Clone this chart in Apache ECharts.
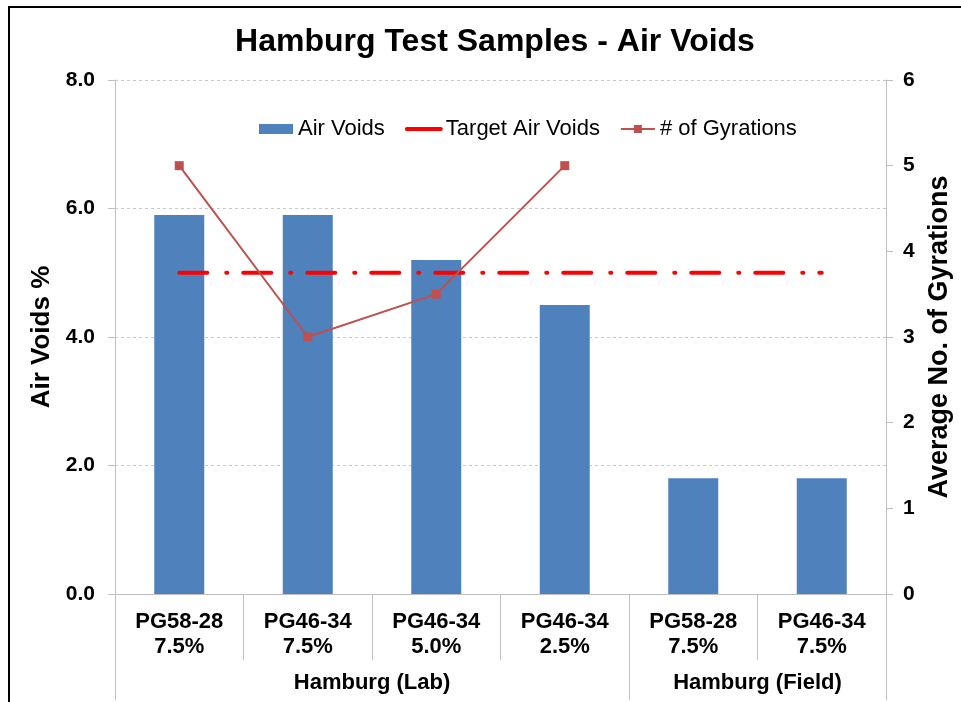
<!DOCTYPE html>
<html>
<head>
<meta charset="utf-8">
<title>Hamburg Test Samples - Air Voids</title>
<script src="https://cdn.jsdelivr.net/npm/echarts@6/dist/echarts.min.js"></script>
<style>
  html, body { margin: 0; padding: 0; background: #fff; }
  #chart { width: 961px; height: 702px; }
</style>
</head>
<body>
<div id="chart"></div>
<script>
// data
const categories = ['PG58-28\n7.5%', 'PG46-34\n7.5%', 'PG46-34\n5.0%', 'PG46-34\n2.5%', 'PG58-28\n7.5%', 'PG46-34\n7.5%'];
const airVoids = [5.9, 5.9, 5.2, 4.5, 1.8, 1.8];
const targetAirVoids = [5.0, 5.0, 5.0, 5.0, 5.0, 5.0];
const gyrations = [5, 3, 3.5, 5, null, null];
const groups = ['Hamburg (Lab)', 'Hamburg (Field)'];
const groupSizes = [4, 2];
const leftTicks = { min: 0, max: 8, interval: 2 };
const rightTicks = { min: 0, max: 6, interval: 1 };

const FONT = 'Arial, "Liberation Sans", sans-serif';
const GRAY = '#BFBFBF';

// group positions on a 0..n value scale laid over the category axis
const groupEdges = [0];
const groupCenters = [];
groupSizes.forEach(function (n) {
  const start = groupEdges[groupEdges.length - 1];
  groupCenters.push(start + n / 2);
  groupEdges.push(start + n);
});

const chart = echarts.init(document.getElementById('chart'));

chart.setOption({
  animation: false,
  textStyle: { fontFamily: FONT },
  title: {
    text: 'Hamburg Test Samples - Air Voids',
    left: 490,
    top: 21,
    textAlign: 'center',
    textStyle: { fontSize: 32, fontWeight: 'bold', color: '#000', fontFamily: FONT }
  },
  graphic: [{
    type: 'polyline',
    shape: { points: [[9, 702], [9, 7], [961, 7]] },
    style: { stroke: '#000', lineWidth: 2, fill: null },
    silent: true
  }],
  legend: {
    left: 254,
    top: 113,
    itemWidth: 34,
    itemHeight: 10,
    itemGap: 20,
    textStyle: { fontSize: 22, color: '#000', fontFamily: FONT },
    data: [
      { name: 'Air Voids', icon: 'rect' },
      { name: 'Target Air Voids', lineStyle: { type: 'solid', width: 4 }, itemStyle: { opacity: 0 } },
      { name: '# of Gyrations' }
    ]
  },
  grid: {
    left: 115,
    right: 75,
    top: 80,
    bottom: 108
  },
  xAxis: [
    {
      type: 'category',
      data: categories,
      axisLine: { lineStyle: { color: GRAY, width: 1 } },
      axisTick: { show: true, interval: 0, length: 66, lineStyle: { color: GRAY } },
      axisLabel: {
        interval: 0,
        margin: 15,
        color: '#000',
        fontSize: 22,
        fontWeight: 'bold',
        lineHeight: 25,
        fontFamily: FONT
      }
    },
    {
      // group labels under the categories
      type: 'value',
      position: 'bottom',
      min: 0,
      max: categories.length,
      axisLine: { show: false },
      axisTick: {
        show: true,
        customValues: groupEdges,
        length: 106,
        lineStyle: { color: GRAY }
      },
      axisLabel: {
        customValues: groupCenters,
        margin: 78,
        color: '#000',
        fontSize: 22,
        fontWeight: 'bold',
        fontFamily: FONT,
        formatter: function (v) {
          const i = groupCenters.indexOf(v);
          return i >= 0 ? groups[i] : '';
        }
      },
      splitLine: { show: false }
    }
  ],
  yAxis: [
    {
      type: 'value',
      min: leftTicks.min,
      max: leftTicks.max,
      interval: leftTicks.interval,
      name: 'Air Voids %',
      nameLocation: 'middle',
      nameRotate: 90,
      nameGap: 56,
      nameTextStyle: { fontSize: 26, fontWeight: 'bold', color: '#000', fontFamily: FONT },
      axisLine: { show: true, lineStyle: { color: GRAY } },
      axisTick: { show: true, length: 7, lineStyle: { color: GRAY } },
      axisLabel: {
        margin: 20,
        color: '#000',
        fontSize: 21,
        fontWeight: 'bold',
        fontFamily: FONT,
        formatter: function (v) { return v.toFixed(1); }
      },
      splitLine: { show: true, lineStyle: { color: '#C8C8C8', type: [3, 3] } }
    },
    {
      type: 'value',
      position: 'right',
      min: rightTicks.min,
      max: rightTicks.max,
      interval: rightTicks.interval,
      name: 'Average No. of Gyrations',
      nameLocation: 'middle',
      nameRotate: 90,
      nameGap: 40,
      nameTextStyle: { fontSize: 27, fontWeight: 'bold', color: '#000', fontFamily: FONT },
      axisLine: { show: true, lineStyle: { color: GRAY } },
      axisTick: { show: true, length: 7, lineStyle: { color: GRAY } },
      axisLabel: {
        margin: 17,
        color: '#000',
        fontSize: 21,
        fontWeight: 'bold',
        fontFamily: FONT
      },
      splitLine: { show: false }
    }
  ],
  series: [
    {
      name: 'Air Voids',
      type: 'bar',
      data: airVoids,
      barWidth: 50,
      itemStyle: { color: '#4F81BD' }
    },
    {
      name: 'Target Air Voids',
      type: 'line',
      data: targetAirVoids,
      symbol: 'none',
      color: '#FF0000',
      lineStyle: { color: '#FF0000', width: 4, type: [28, 19, 1, 16], cap: 'round' }
    },
    {
      name: '# of Gyrations',
      type: 'line',
      yAxisIndex: 1,
      data: gyrations,
      symbol: 'rect',
      symbolSize: 9,
      color: '#C0504D',
      itemStyle: { color: '#C0504D' },
      lineStyle: { color: '#C0504D', width: 2 }
    }
  ]
});
</script>
</body>
</html>
